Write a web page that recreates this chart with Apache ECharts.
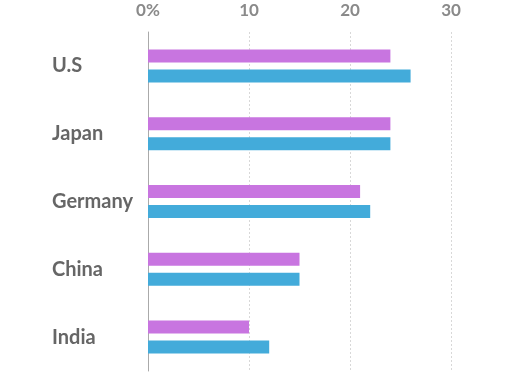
<!DOCTYPE html>
<html>
<head>
<meta charset="utf-8">
<script src="https://cdn.jsdelivr.net/npm/echarts@6/dist/echarts.min.js"></script>
<style>
  html, body { margin: 0; padding: 0; background: #fff; }
  #chart { width: 520px; height: 376px; }
</style>
</head>
<body>
<div id="chart"></div>
<script>
var countries = ['U.S', 'Japan', 'Germany', 'China', 'India'];
var purpleValues = [24, 24, 21, 15, 10];
var blueValues = [26, 24, 22, 15, 12];

var myChart = echarts.init(document.getElementById('chart'));

var option = {
    animation: false,
    grid: {
        left: 148,
        right: 69,
        top: 32,
        bottom: 5,
        containLabel: false
    },
    xAxis: {
        type: 'value',
        position: 'top',
        min: 0,
        max: 30,
        interval: 10,
        axisLine: { show: false },
        axisTick: { show: false },
        axisLabel: {
            margin: 13,
            color: '#8a8a8a',
            fontSize: 17,
            fontWeight: 'bold',
            fontFamily: 'Lato',
            formatter: function (value) {
                return value === 0 ? '0%' : value;
            }
        },
        splitLine: {
            show: true,
            lineStyle: { color: '#d8d8d8', type: [2, 2], width: 1 }
        }
    },
    yAxis: {
        type: 'category',
        data: countries,
        inverse: true,
        axisLine: { show: true, lineStyle: { color: '#aaaaaa', width: 1 } },
        axisTick: { show: false },
        axisLabel: {
            align: 'left',
            margin: 96,
            color: '#666666',
            fontSize: 20,
            fontWeight: 'bold',
            fontFamily: 'Lato',
            padding: [4, 0, 0, 0]
        }
    },
    series: [{
        type: 'bar',
        data: purpleValues,
        barWidth: 13,
        barGap: '54%',
        itemStyle: { color: '#c875e0' }
    }, {
        type: 'bar',
        data: blueValues,
        barWidth: 13,
        itemStyle: { color: '#43abda' }
    }]
};

myChart.setOption(option);
</script>
</body>
</html>
